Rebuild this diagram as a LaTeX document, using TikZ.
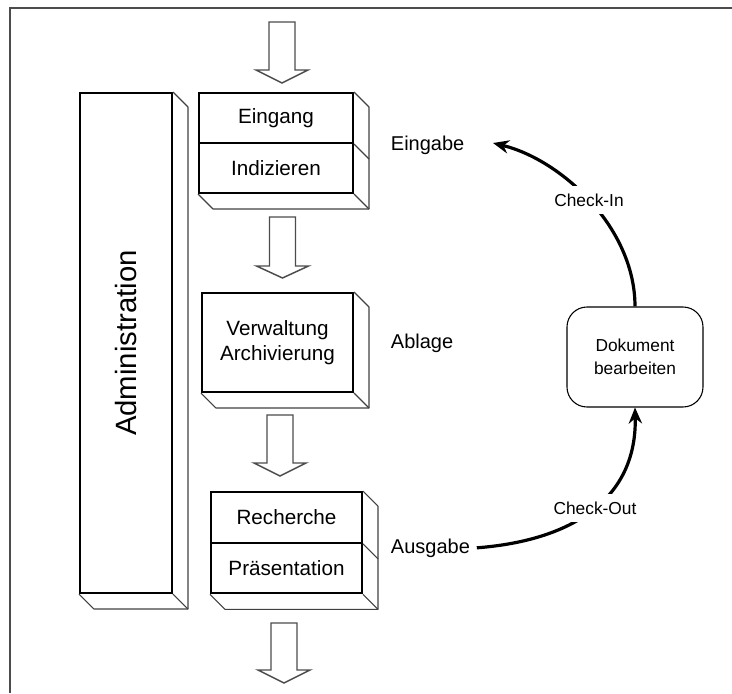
\documentclass[tikz,border=0pt]{standalone}
\usepackage{fontspec}
\setmainfont{Liberation Sans}
\usetikzlibrary{arrows.meta,calc}

% side and bottom faces of an extruded box: #1 upper front node, #2 lower front node, #3 depth
\newcommand\depthfaces[3]{%
  \draw[sideface] (#1.north east) -- ++(#3,#3) -- ($(#2.south east)+(#3,#3)$)
    -- ($(#2.south west)+(#3,#3)$) -- (#2.south west);
  \draw[sideface] (#2.south east) -- ++(#3,#3);
}
% hollow flow arrow: #1 centre x, #2 top, #3 head base, #4 tip
\newcommand\hollowarrow[4]{%
  \draw[blockarrow] (#1-13,#2) -- (#1+13,#2) -- (#1+13,#3) -- (#1+26,#3)
    -- (#1,#4) -- (#1-26,#3) -- (#1-13,#3) -- cycle;
}

\begin{document}
\begin{tikzpicture}[x=0.75pt,y=-0.75pt,
  frontface/.style={draw, line width=1.5pt, inner sep=0pt, align=center,
    font=\fontsize{15.5}{18.75}\selectfont},
  sideface/.style={draw=black!75, line width=0.8pt, line join=round},
  blockarrow/.style={draw=black!70, fill=white, line width=1.1pt, line join=miter},
  stage/.style={font=\fontsize{15}{18}\selectfont, inner sep=2pt},
  flowlabel/.style={font=\fontsize{13}{16}\selectfont, fill=white, inner sep=6pt},
  cycle arrow/.style={line width=2.4pt, -{Stealth[length=12pt,width=10pt]}},
]
\useasboundingbox (0,0) rectangle (732,693);

% open frame
\draw[black!70, line width=1.5pt] (10,693) -- (10,8) -- (732,8);

% administration column
\node[frontface, minimum width=69pt, minimum height=375pt] (adm) at (126,343) {};
\depthfaces{adm}{adm}{15}
\node[rotate=90, font=\fontsize{22}{26}\selectfont] (admtext) at (adm.center) {Administration};

% input stage
\node[frontface, minimum width=115.5pt, minimum height=37.5pt] (eingang) at (276,118) {Eingang};
\node[frontface, minimum width=115.5pt, minimum height=37.5pt] (indiz) at (276,168) {Indizieren};
\depthfaces{eingang}{indiz}{15}
\draw[sideface] (eingang.south east) -- ++(15,15);

% storage stage
\node[frontface, minimum width=113.25pt, minimum height=74.25pt] (verw) at (277.5,342.5)
  {Verwaltung\\Archivierung};
\depthfaces{verw}{verw}{15}

% output stage
\node[frontface, minimum width=113.25pt, minimum height=38pt] (rech) at (286.5,517.5) {Recherche};
\node[frontface, minimum width=113.25pt, minimum height=38pt] (praes) at (286.5,568) {Präsentation};
\depthfaces{rech}{praes}{15}
\draw[sideface] (rech.south east) -- ++(15,15);

% flow arrows
\hollowarrow{282}{22}{70}{83}
\hollowarrow{282.5}{217}{266}{278}
\hollowarrow{280}{415}{463}{476}
\hollowarrow{284}{623}{670}{683}

% stage names
\node[stage, anchor=base west] (eingabe) at (388,150) {Eingabe};
\node[stage, anchor=base west] (ablage) at (388,348) {Ablage};
\node[stage, anchor=base west] (ausgabe) at (388,553) {Ausgabe};

% editing cycle
\node[draw, line width=0.8pt, rounded corners=15pt, minimum width=102pt, minimum height=75pt,
  align=center, font=\fontsize{13}{17}\selectfont] (dok) at (635,357) {Dokument\\bearbeiten};
\coordinate (ciend) at (493,143);

\draw[cycle arrow] ([xshift=3pt]ausgabe.east) .. controls (578,540) and (637,495) .. (dok.south);
\draw[cycle arrow] (dok.north) .. controls (635,228) and (562,160) .. (ciend);

\node[flowlabel] (checkout) at (595,508) {Check-Out};
\node[flowlabel] (checkin) at (589,200) {Check-In};
\end{tikzpicture}
\end{document}
